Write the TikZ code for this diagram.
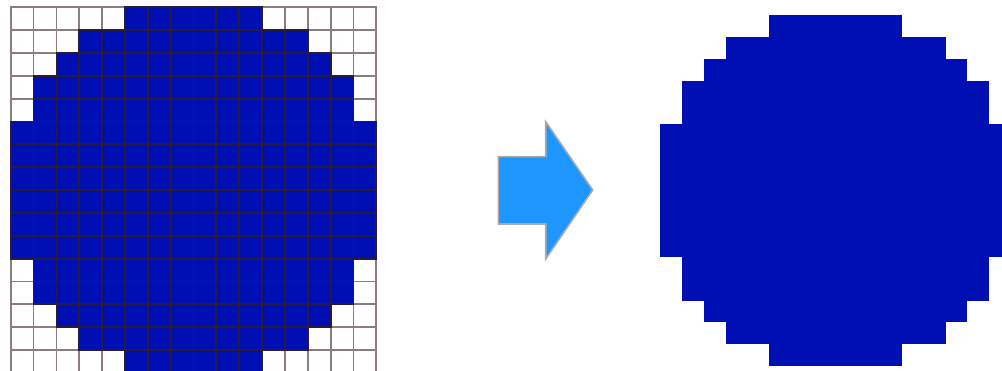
\documentclass[tikz,border=0pt]{standalone}
\definecolor{pixblue}{RGB}{0,15,180}
\definecolor{gridgrey}{RGB}{140,125,125}
\definecolor{griddark}{RGB}{40,28,58}
\definecolor{arrowblue}{RGB}{30,150,255}
\definecolor{arrowedge}{RGB}{170,170,170}
\tikzset{
  whitecell/.style={draw=gridgrey, line width=1.8pt},
  bluecell/.style={draw=griddark, line width=1.8pt},
  bluerow/.style={fill=pixblue},
  solidrow/.style={fill=pixblue, draw=pixblue, line width=0.3pt},
  bigarrow/.style={fill=arrowblue, draw=arrowedge, line width=1.6pt, line join=miter}
}
\begin{document}
\begin{tikzpicture}[x=1pt,y=-1pt]
\useasboundingbox (0,0) rectangle (1002,371);
\clip (0,0) rectangle (1002,371);
% left: gridded pixel circle
\def\lx{10.7}\def\ly{7.3}\def\ls{22.85}
\foreach \c in {0,...,15}{
  \foreach \r in {0,...,15}{
    \draw[whitecell] ({\lx+\c*\ls},{\ly+\r*\ls}) rectangle ++(\ls,\ls);
  }
}
\foreach \r/\a/\b in {0/5/10,1/3/12,2/2/13,3/1/14,4/1/14,5/0/15,6/0/15,7/0/15,8/0/15,9/0/15,10/0/15,11/1/14,12/1/14,13/2/13,14/3/12,15/5/10}{
  \fill[bluerow] ({\lx+\a*\ls},{\ly+\r*\ls}) rectangle ({\lx+(\b+1)*\ls},{\ly+(\r+1)*\ls});
  \foreach \c in {\a,...,\b}{
    \draw[bluecell] ({\lx+\c*\ls},{\ly+\r*\ls}) rectangle ++(\ls,\ls);
  }
}
% arrow
\draw[bigarrow] (498.3,156.7) -- (545.7,156.7) -- (545.7,121.7) -- (592.7,190) -- (545.7,259) -- (545.7,224) -- (498.3,224) -- cycle;
% right: solid pixel circle
\def\rx{660}\def\ry{15}\def\rs{21.9}
\foreach \r/\a/\b in {0/5/10,1/3/12,2/2/13,3/1/14,4/1/14,5/0/15,6/0/15,7/0/15,8/0/15,9/0/15,10/0/15,11/1/14,12/1/14,13/2/13,14/3/12,15/5/10}{
  \path[solidrow] ({\rx+\a*\rs},{\ry+\r*\rs}) rectangle ({\rx+(\b+1)*\rs},{\ry+(\r+1)*\rs});
}
\end{tikzpicture}
\end{document}
